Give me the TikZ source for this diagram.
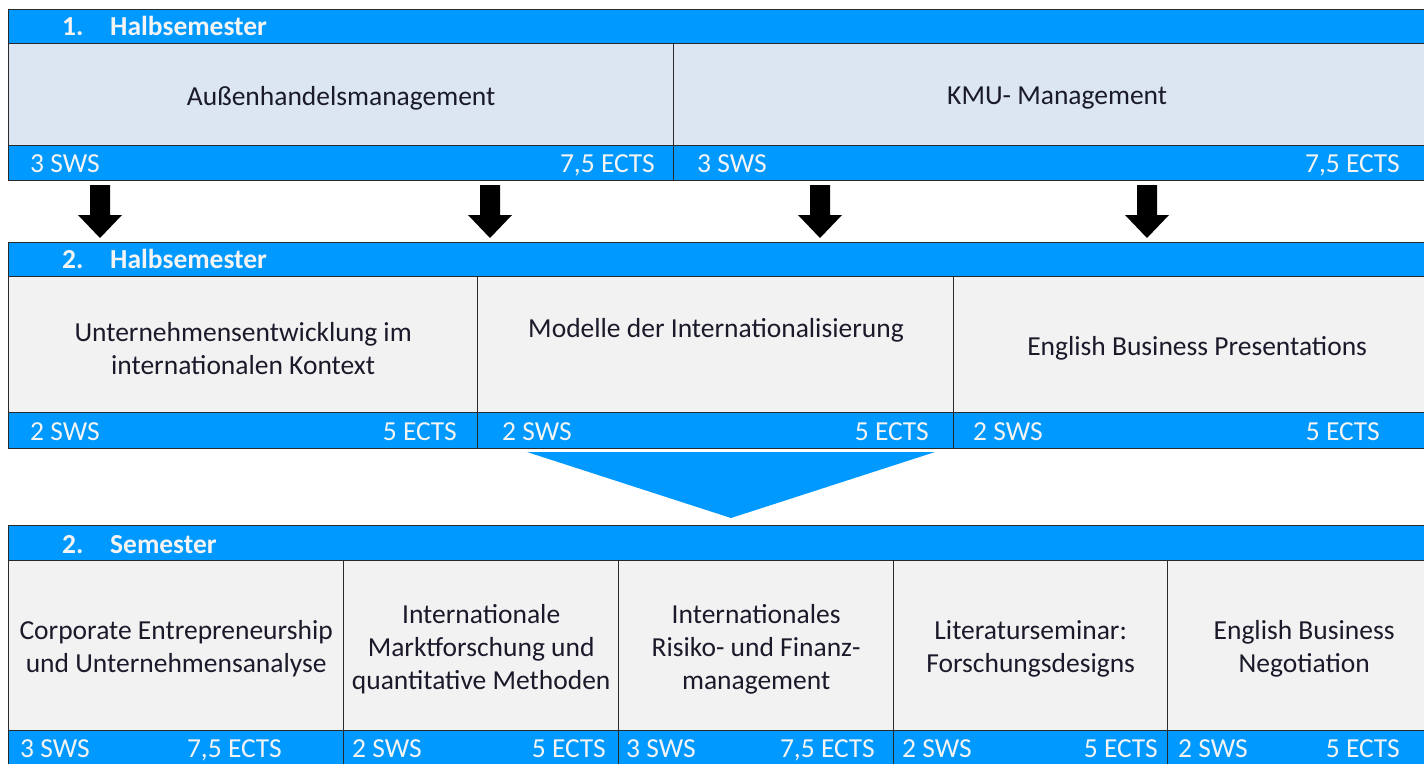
\documentclass[tikz,border=0pt]{standalone}
\usepackage{fontspec}
\setmainfont{Carlito}
\definecolor{hblue}{HTML}{0099FF}
\definecolor{cellA}{HTML}{DCE6F2}
\definecolor{cellB}{HTML}{F2F2F2}
\definecolor{edge}{HTML}{2A2A2A}
\definecolor{txt}{HTML}{1A1A2A}
\definecolor{wtxt}{HTML}{F4F4F4}
\tikzset{
  box/.style={draw=edge, line width=1.3pt, inner sep=0pt, anchor=north west},
  hdr/.style={box, fill=hblue},
  cellone/.style={box, fill=cellA},
  celltwo/.style={box, fill=cellB},
  ftr/.style={box, fill=hblue},
  htext/.style={inner sep=0pt, anchor=base west, text=wtxt, font=\bfseries\fontsize{27.5}{33}\selectfont},
  lft/.style={inner sep=0pt, anchor=base west, text=wtxt, font=\fontsize{27.5}{33}\selectfont},
  rgt/.style={inner sep=0pt, anchor=base east, text=wtxt, font=\fontsize{27.5}{33}\selectfont},
  plain/.style={inner sep=0pt, text=txt, align=center, font=\fontsize{27.5}{33}\selectfont},
}
\newcommand{\blockarrow}[1]{%
  \fill[black] (#1-10,185) -- (#1+10,185) -- (#1+10,215) -- (#1+22,215) -- (#1,238) -- (#1-22,215) -- (#1-10,215) -- cycle;}
\newcommand{\celltext}[3]{\node[plain] (#1) at ([yshift=-3.5pt]#2.center) {#3};}
\begin{document}
\begin{tikzpicture}[x=1pt,y=-1pt]
\useasboundingbox (0,0) rectangle (1424,763);
\clip (0,0) rectangle (1424,763);
\fill[white] (0,0) rectangle (1424,763);

% ---------- Band 1 ----------
\node[hdr, minimum width=1432, minimum height=34] (h1) at (8,9) {};
\node[htext] (h1n) at (62,35) {1.};
\node[htext] (h1t) at (110,35) {Halbsemester};
\node[cellone, minimum width=665, minimum height=102] (c11) at (8,43) {};
\node[cellone, minimum width=767, minimum height=102] (c12) at (673,43) {};
\celltext{t11}{c11}{Außenhandelsmanagement}
\celltext{t12}{c12}{KMU- Management}
\node[ftr, minimum width=665, minimum height=35] (f11) at (8,145) {};
\node[ftr, minimum width=767, minimum height=35] (f12) at (673,145) {};
\node[lft] (f11a) at (30,172) {3 SWS};
\node[rgt] (f11b) at (655,172) {7,5 ECTS};
\node[lft] (f12a) at (697,172) {3 SWS};
\node[rgt] (f12b) at (1400,172) {7,5 ECTS};

% arrows
\blockarrow{100}
\blockarrow{490}
\blockarrow{820}
\blockarrow{1147}

% ---------- Band 2 ----------
\node[hdr, minimum width=1432, minimum height=34] (h2) at (8,242) {};
\node[htext] (h2n) at (62,268) {2.};
\node[htext] (h2t) at (110,268) {Halbsemester};
\node[celltwo, minimum width=469, minimum height=136] (c21) at (8,276) {};
\node[celltwo, minimum width=476, minimum height=136] (c22) at (477,276) {};
\node[celltwo, minimum width=487, minimum height=136] (c23) at (953,276) {};
\celltext{t21}{c21}{Unternehmensentwicklung im\\internationalen Kontext}
\node[plain] (t22) at (716,330) {Modelle der Internationalisierung};
\celltext{t23}{c23}{English Business Presentations}
\node[ftr, minimum width=469, minimum height=36] (f21) at (8,412) {};
\node[ftr, minimum width=476, minimum height=36] (f22) at (477,412) {};
\node[ftr, minimum width=487, minimum height=36] (f23) at (953,412) {};
\node[lft] (f21a) at (30,440) {2 SWS};
\node[rgt] (f21b) at (457,440) {5 ECTS};
\node[lft] (f22a) at (502,440) {2 SWS};
\node[rgt] (f22b) at (929,440) {5 ECTS};
\node[lft] (f23a) at (973,440) {2 SWS};
\node[rgt] (f23b) at (1380,440) {5 ECTS};

% big triangle
\fill[hblue] (527,452) -- (935,452) -- (731,518) -- cycle;

% ---------- Band 3 ----------
\node[hdr, minimum width=1432, minimum height=35] (h3) at (8,525) {};
\node[htext] (h3n) at (62,553) {2.};
\node[htext] (h3t) at (110,553) {Semester};
\node[celltwo, minimum width=335, minimum height=170] (c31) at (8,560) {};
\node[celltwo, minimum width=275, minimum height=170] (c32) at (343,560) {};
\node[celltwo, minimum width=275, minimum height=170] (c33) at (618,560) {};
\node[celltwo, minimum width=274, minimum height=170] (c34) at (893,560) {};
\node[celltwo, minimum width=273, minimum height=170] (c35) at (1167,560) {};
\celltext{t31}{c31}{Corporate Entrepreneurship\\und Unternehmensanalyse}
\celltext{t32}{c32}{Internationale\\Marktforschung und\\quantitative Methoden}
\celltext{t33}{c33}{Internationales\\Risiko- und Finanz-\\management}
\celltext{t34}{c34}{Literaturseminar:\\Forschungsdesigns}
\celltext{t35}{c35}{English Business\\Negotiation}
\node[ftr, minimum width=335, minimum height=35] (f31) at (8,730) {};
\node[ftr, minimum width=275, minimum height=35] (f32) at (343,730) {};
\node[ftr, minimum width=275, minimum height=35] (f33) at (618,730) {};
\node[ftr, minimum width=274, minimum height=35] (f34) at (893,730) {};
\node[ftr, minimum width=273, minimum height=35] (f35) at (1167,730) {};
\node[lft] (f31a) at (20,757) {3 SWS};
\node[rgt] (f31b) at (282,757) {7,5 ECTS};
\node[lft] (f32a) at (352,757) {2 SWS};
\node[rgt] (f32b) at (606,757) {5 ECTS};
\node[lft] (f33a) at (626,757) {3 SWS};
\node[rgt] (f33b) at (875,757) {7,5 ECTS};
\node[lft] (f34a) at (902,757) {2 SWS};
\node[rgt] (f34b) at (1158,757) {5 ECTS};
\node[lft] (f35a) at (1178,757) {2 SWS};
\node[rgt] (f35b) at (1400,757) {5 ECTS};
\end{tikzpicture}
\end{document}
